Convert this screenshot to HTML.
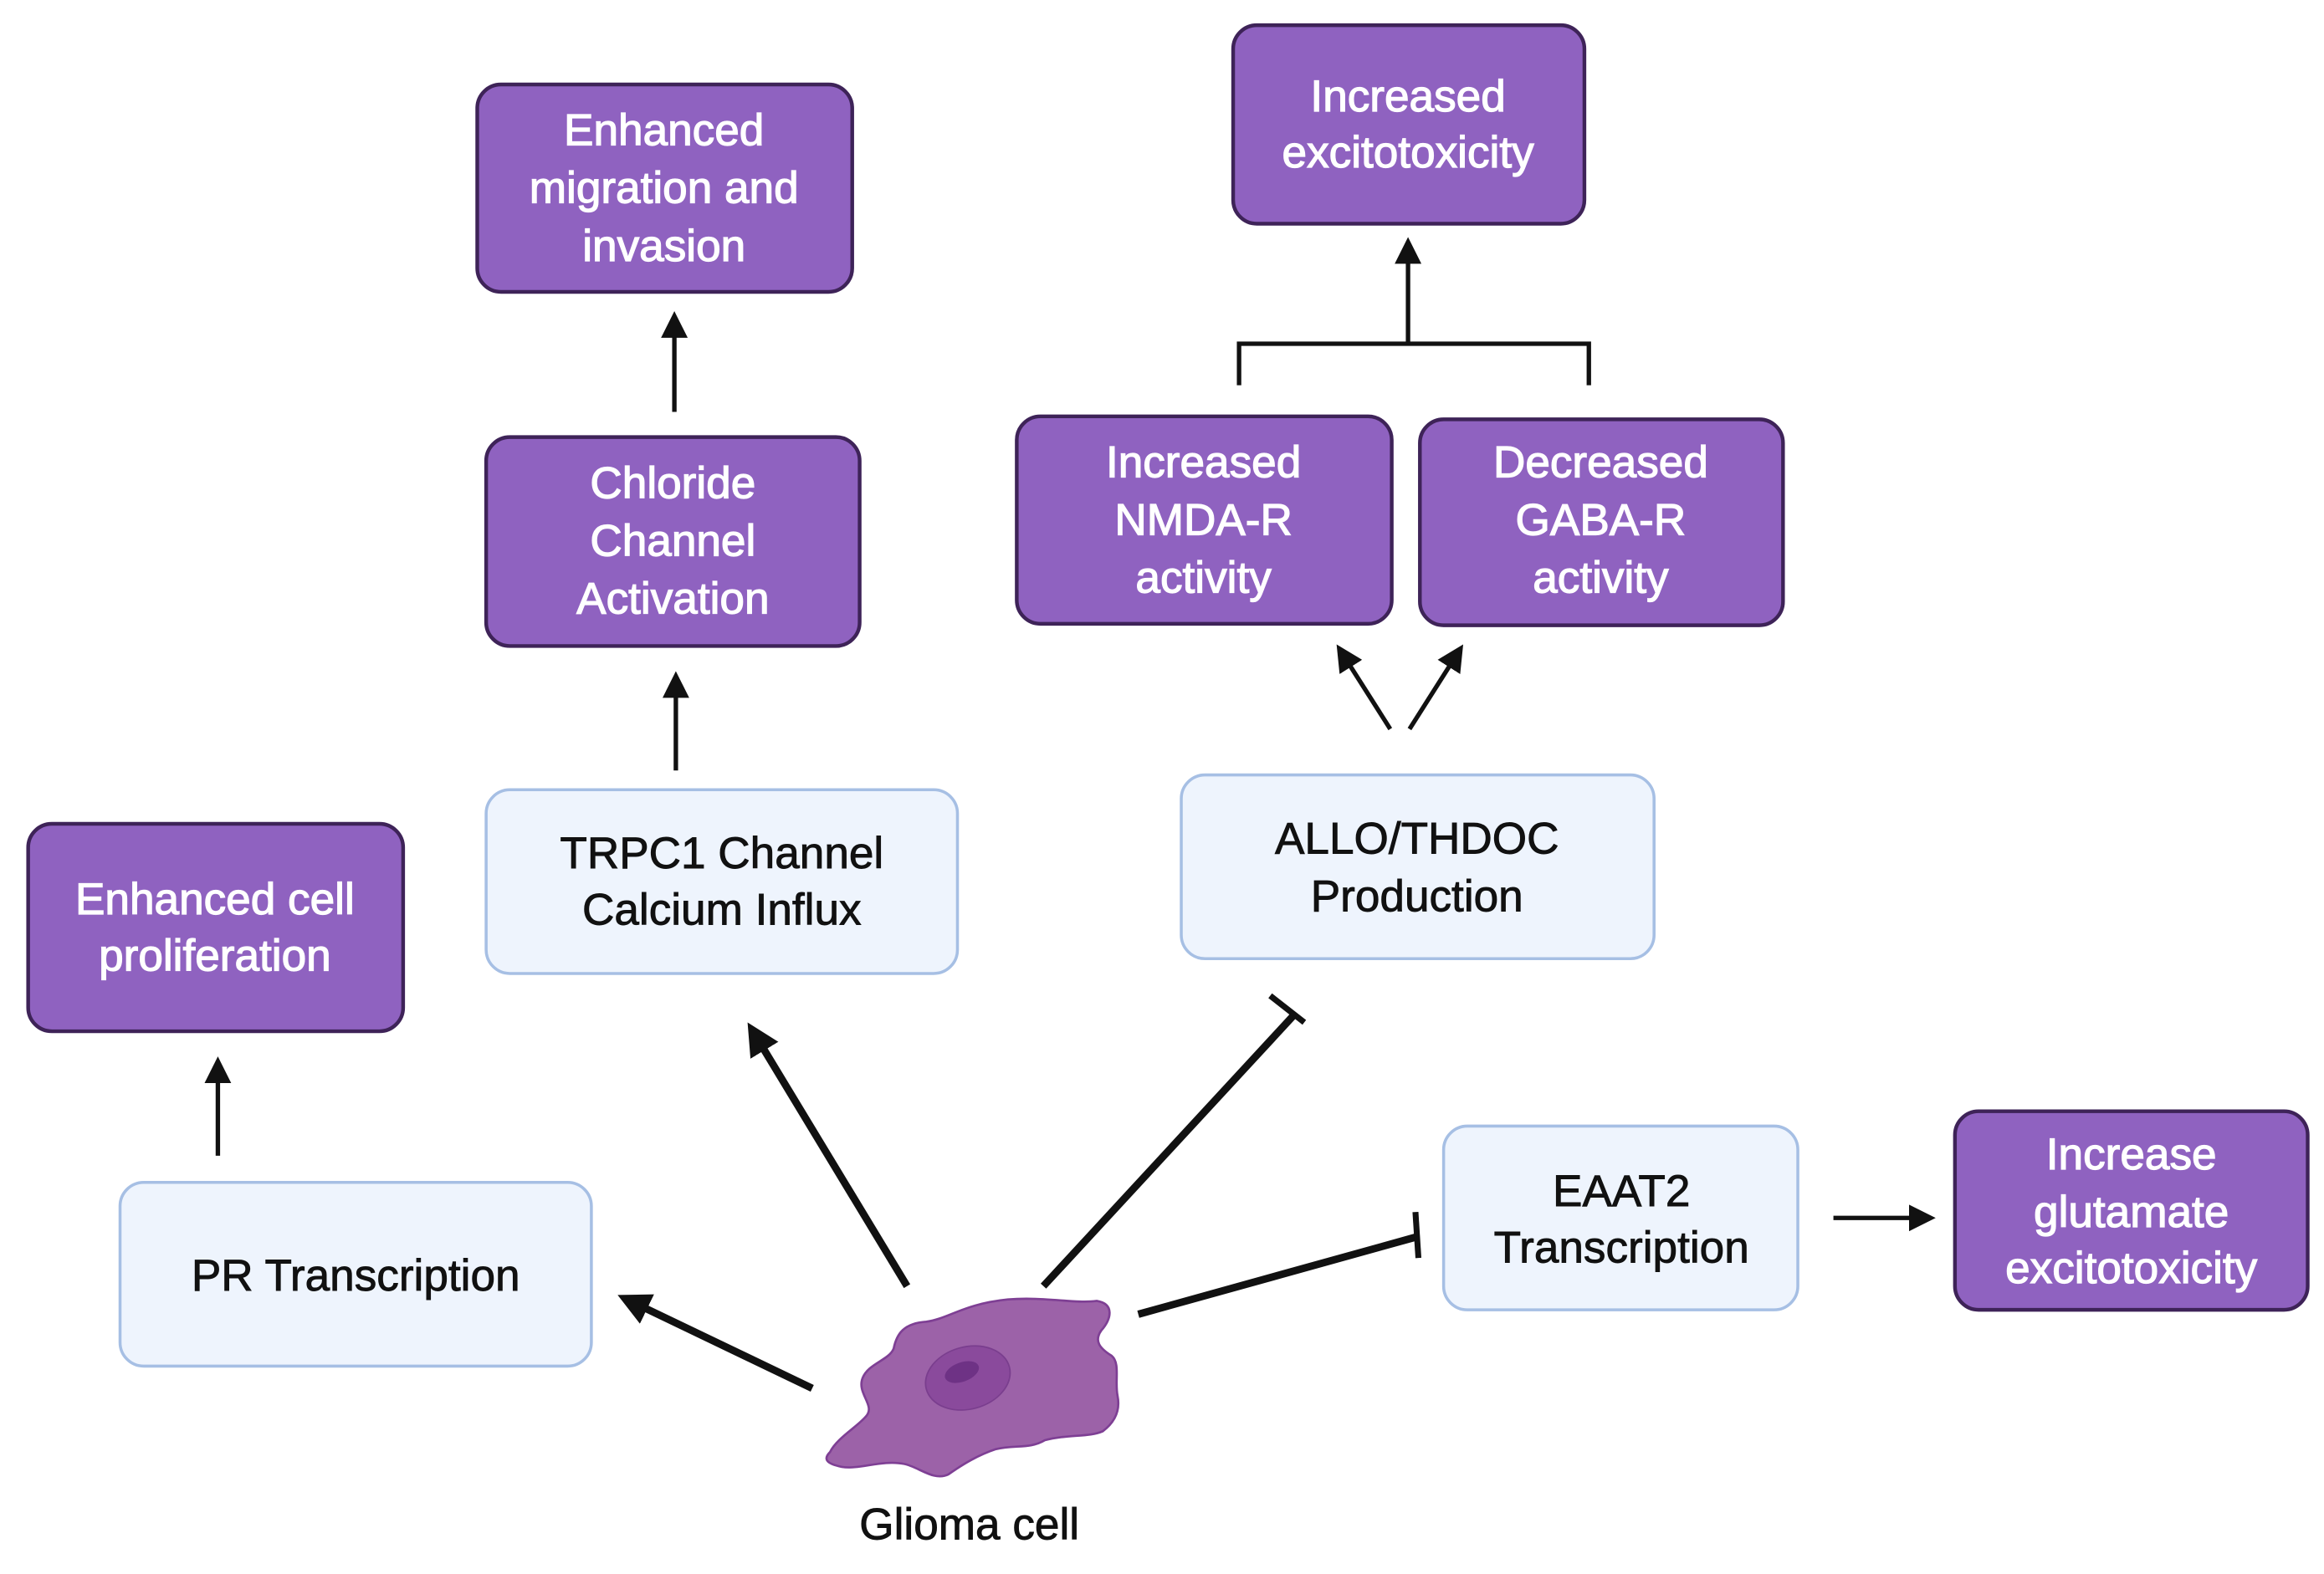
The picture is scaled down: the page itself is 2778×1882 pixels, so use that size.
<!DOCTYPE html>
<html><head><meta charset="utf-8"><style>
html,body{margin:0;padding:0;background:#fff;width:2778px;height:1882px;overflow:hidden}
svg{display:block}
text{font-family:"Liberation Sans",sans-serif;text-anchor:middle}
.p{fill:#8f62c0;stroke:#3e2358;stroke-width:2.5}
.l{fill:#eef4fd;stroke:#a6bfe4;stroke-width:2}
.pt{fill:#fff;stroke:#fff;stroke-width:0.7;font-size:30px}
.lt{fill:#111;stroke:#111;stroke-width:0.5;font-size:30px}
.a{stroke:#111;stroke-width:3;fill:none}
.b{stroke:#111;stroke-width:5;fill:none}
</style></head><body>
<svg width="2778" height="1882" viewBox="0 0 1568 1062.3" preserveAspectRatio="none">
<defs>
<marker id="m" markerWidth="6" markerHeight="6" refX="4" refY="3" orient="auto" markerUnits="strokeWidth"><path d="M0,0 L6,3 L0,6 z" fill="#111"/></marker>
<marker id="mb" markerWidth="4.4" markerHeight="4.4" refX="3" refY="2.2" orient="auto" markerUnits="strokeWidth"><path d="M0,0 L4.4,2.2 L0,4.4 z" fill="#111"/></marker>
</defs>
<rect class="p" x="322" y="57" width="253" height="140" rx="16"/>
<text class="pt" x="448" y="98">Enhanced</text><text class="pt" x="448" y="137">migration and</text><text class="pt" x="448" y="176">invasion</text>
<rect class="p" x="832" y="17" width="237" height="134" rx="16"/>
<text class="pt" x="950" y="75">Increased</text><text class="pt" x="950" y="113">excitotoxicity</text>
<rect class="p" x="328" y="295" width="252" height="141" rx="16"/>
<text class="pt" x="454" y="336">Chloride</text><text class="pt" x="454" y="375">Channel</text><text class="pt" x="454" y="414">Activation</text>
<rect class="p" x="686" y="281" width="253" height="140" rx="16"/>
<text class="pt" x="812" y="322">Increased</text><text class="pt" x="812" y="361">NMDA-R</text><text class="pt" x="812" y="400">activity</text>
<rect class="p" x="958" y="283" width="245" height="139" rx="16"/>
<text class="pt" x="1080" y="322">Decreased</text><text class="pt" x="1080" y="361">GABA-R</text><text class="pt" x="1080" y="400">activity</text>
<rect class="p" x="19" y="556" width="253" height="140" rx="16"/>
<text class="pt" x="145" y="617">Enhanced cell</text><text class="pt" x="145" y="655">proliferation</text>
<rect class="p" x="1319" y="750" width="238" height="134" rx="16"/>
<text class="pt" x="1438" y="789">Increase</text><text class="pt" x="1438" y="828">glutamate</text><text class="pt" x="1438" y="866">excitotoxicity</text>
<rect class="l" x="328" y="533" width="318" height="124" rx="16"/>
<text class="lt" x="487" y="586">TRPC1 Channel</text><text class="lt" x="487" y="624">Calcium Influx</text>
<rect class="l" x="797" y="523" width="319" height="124" rx="16"/>
<text class="lt" x="956" y="576">ALLO/THDOC</text><text class="lt" x="956" y="615">Production</text>
<rect class="l" x="81" y="798" width="318" height="124" rx="16"/>
<text class="lt" x="240" y="871">PR Transcription</text>
<rect class="l" x="974" y="760" width="239" height="124" rx="16"/>
<text class="lt" x="1094" y="814">EAAT2</text><text class="lt" x="1094" y="852">Transcription</text>
<line class="a" x1="455" y1="278" x2="455" y2="216" marker-end="url(#m)"/>
<line class="a" x1="456" y1="520" x2="456" y2="459" marker-end="url(#m)"/>
<line class="a" x1="147" y1="780" x2="147" y2="719" marker-end="url(#m)"/>
<path class="a" d="M836,260 V232 H1072 V260"/>
<line class="a" x1="950" y1="232" x2="950" y2="166" marker-end="url(#m)"/>
<line class="a" x1="938" y1="492" x2="905" y2="440" marker-end="url(#m)"/>
<line class="a" x1="951" y1="492" x2="984" y2="440" marker-end="url(#m)"/>
<line class="a" x1="1237" y1="822" x2="1300" y2="822" marker-end="url(#m)"/>
<line class="b" x1="612" y1="868" x2="508" y2="696" marker-end="url(#mb)"/>
<line class="b" x1="548" y1="937" x2="423" y2="877" marker-end="url(#mb)"/>
<line class="b" x1="704" y1="868" x2="874" y2="684"/>
<line class="b" x1="857" y1="672" x2="880" y2="690" style="stroke-width:4"/>
<line class="b" x1="768" y1="887" x2="955" y2="835"/>
<line class="b" x1="955" y1="818" x2="957" y2="849" style="stroke-width:4"/>
<path d="M560,980 C565,970 580,962 585,955 C590,948 578,940 582,930 C586,920 600,918 603,910 C605,900 610,893 625,892 C640,890 650,880 680,877 C705,875 725,880 740,878 C752,880 750,890 743,898 C738,905 742,910 750,915 C756,920 752,932 754,942 C756,952 752,960 744,966 C735,970 720,968 705,972 C695,978 685,975 672,978 C660,982 650,988 640,995 C630,1000 620,990 610,988 C595,985 580,992 568,990 C558,988 555,985 560,980 Z" fill="#9c62a8" stroke="#7e3f94" stroke-width="1.5"/>
<ellipse cx="653" cy="930" rx="29" ry="21" transform="rotate(-15 653 930)" fill="#8a4a9c" stroke="#7a3e8e" stroke-width="1"/>
<ellipse cx="649" cy="926" rx="12" ry="6.5" transform="rotate(-20 649 926)" fill="#6e3285"/>
<text class="lt" x="654" y="1039">Glioma cell</text>
</svg>
</body></html>
